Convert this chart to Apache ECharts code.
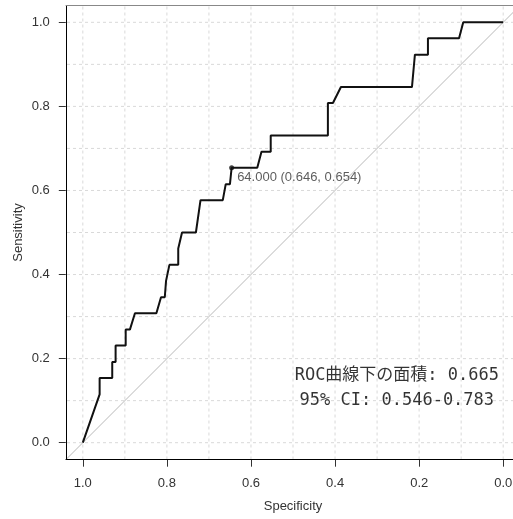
<!DOCTYPE html>
<html>
<head>
<meta charset="utf-8">
<script src="https://cdn.jsdelivr.net/npm/echarts@6/dist/echarts.min.js"></script>
<style>
html, body { margin: 0; padding: 0; background: #fff; }
#main { width: 513px; height: 519px; }
</style>
</head>
<body>
<div id="main"></div>
<script>
// ROC curve: specificity (x, reversed) and sensitivity (y)
var rocSpec = [1.000, 0.960, 0.960, 0.930, 0.930, 0.922, 0.922, 0.898, 0.898, 0.888,
    0.876, 0.825, 0.814, 0.805, 0.802, 0.794, 0.773, 0.773, 0.764, 0.731,
    0.720, 0.667, 0.660, 0.650, 0.646, 0.585, 0.575, 0.553, 0.553, 0.417,
    0.417, 0.405, 0.386, 0.217, 0.210, 0.179, 0.179, 0.105, 0.095, 0.000];
var rocSens = [0.000, 0.115, 0.154, 0.154, 0.192, 0.192, 0.231, 0.231, 0.269, 0.269,
    0.308, 0.308, 0.346, 0.346, 0.385, 0.423, 0.423, 0.462, 0.500, 0.500,
    0.577, 0.577, 0.615, 0.615, 0.654, 0.654, 0.692, 0.692, 0.731, 0.731,
    0.808, 0.808, 0.846, 0.846, 0.923, 0.923, 0.962, 0.962, 1.000, 1.000];
// reference diagonal, drawn across the whole plot box
var diagSpec = [1.04, -0.04];
var diagSens = [-0.04, 1.04];
// best threshold point
var bestPoint = [0.646, 0.654];
var bestLabel = '64.000 (0.646, 0.654)';
// AUC text and where it sits (data coords)
var aucPos = [0.253, 0.131];
var aucLines = ['ROC曲線下の面積: 0.665', '95% CI: 0.546-0.783'];
var gridValues = [0, 0.1, 0.2, 0.3, 0.4, 0.5, 0.6, 0.7, 0.8, 0.9, 1.0];
var axisMin = -0.04, axisMax = 1.04;

var chartDom = document.getElementById('main');
var myChart = echarts.init(chartDom);

var rocData = rocSpec.map(function (s, i) { return [s, rocSens[i]]; });
var diagData = diagSpec.map(function (s, i) { return [s, diagSens[i]]; });

var labelFont = { color: '#333', fontSize: 13, fontFamily: 'Liberation Sans, Arial, sans-serif' };

// dotted grid, one small line series per grid value, both directions
var gridSeries = [];
gridValues.forEach(function (v) {
    [[[v, axisMin], [v, axisMax]], [[axisMin, v], [axisMax, v]]].forEach(function (pts) {
        gridSeries.push({
            type: 'line', xAxisIndex: 0, yAxisIndex: 0, data: pts,
            symbol: 'none', silent: true, z: 1,
            lineStyle: { color: '#d9d9d9', type: [3, 3], width: 1 }
        });
    });
});

var option = {
    animation: false,
    grid: [
        // full plot box
        { left: 66, top: 5.5, width: 454, height: 454, outerBoundsMode: 'none' },
        // 0..1 region, only carries ticks and labels
        { left: 82.8, top: 22.3, width: 420.5, height: 420.4, outerBoundsMode: 'none' }
    ],
    xAxis: [
        {
            gridIndex: 0, type: 'value', min: axisMin, max: axisMax, inverse: true, z: 5,
            axisLine: { show: true, onZero: false, lineStyle: { color: '#000', width: 1 } },
            axisTick: { show: false }, axisLabel: { show: false }, splitLine: { show: false },
            name: 'Specificity', nameLocation: 'middle', nameGap: 40,
            nameTextStyle: labelFont
        },
        {
            gridIndex: 1, type: 'value', min: 0, max: 1, interval: 0.2, inverse: true,
            offset: 17,
            axisLine: { show: false, onZero: false },
            axisTick: { show: true, length: 7, lineStyle: { color: '#333' } },
            axisLabel: Object.assign({ margin: 17, formatter: function (v) { return v.toFixed(1); } }, labelFont),
            splitLine: { show: false }
        },
        {
            gridIndex: 0, type: 'value', min: axisMin, max: axisMax, inverse: true, position: 'top', z: 5,
            axisLine: { show: true, onZero: false, lineStyle: { color: '#888', width: 1 } },
            axisTick: { show: false }, axisLabel: { show: false }, splitLine: { show: false }
        }
    ],
    yAxis: [
        {
            gridIndex: 0, type: 'value', min: axisMin, max: axisMax, z: 5,
            axisLine: { show: true, onZero: false, lineStyle: { color: '#000', width: 1 } },
            axisTick: { show: false }, axisLabel: { show: false }, splitLine: { show: false },
            name: 'Sensitivity', nameLocation: 'middle', nameGap: 41,
            nameTextStyle: labelFont
        },
        {
            gridIndex: 1, type: 'value', min: 0, max: 1, interval: 0.2,
            offset: 17,
            axisLine: { show: false, onZero: false },
            axisTick: { show: true, length: 7, lineStyle: { color: '#333' } },
            axisLabel: Object.assign({ margin: 16, formatter: function (v) { return v.toFixed(1); } }, labelFont),
            splitLine: { show: false }
        }
    ],
    series: gridSeries.concat([
        {
            type: 'line', xAxisIndex: 0, yAxisIndex: 0, data: diagData,
            symbol: 'none', silent: true, z: 2,
            lineStyle: { color: '#b8b8b8', width: 1 }
        },
        {
            type: 'line', xAxisIndex: 0, yAxisIndex: 0, data: rocData,
            symbol: 'none', silent: true, z: 3,
            lineStyle: { color: '#111', width: 2 }
        },
        {
            type: 'scatter', xAxisIndex: 0, yAxisIndex: 0, data: [bestPoint],
            symbolSize: 5, itemStyle: { color: '#111' }, silent: true, z: 4,
            label: Object.assign({
                show: true, position: 'right', distance: 3, offset: [0, 10],
                formatter: bestLabel
            }, labelFont)
        },
        {
            type: 'scatter', xAxisIndex: 0, yAxisIndex: 0, data: [aucPos],
            symbolSize: 0, silent: true, z: 4,
            label: {
                show: true, position: 'inside', align: 'center', verticalAlign: 'middle',
                formatter: aucLines.join('\n'), lineHeight: 25,
                fontSize: 17, color: '#000',
                fontFamily: '"DejaVu Sans Mono", "Noto Sans CJK JP", monospace'
            }
        }
    ])
};
myChart.setOption(option);
</script>
</body>
</html>
